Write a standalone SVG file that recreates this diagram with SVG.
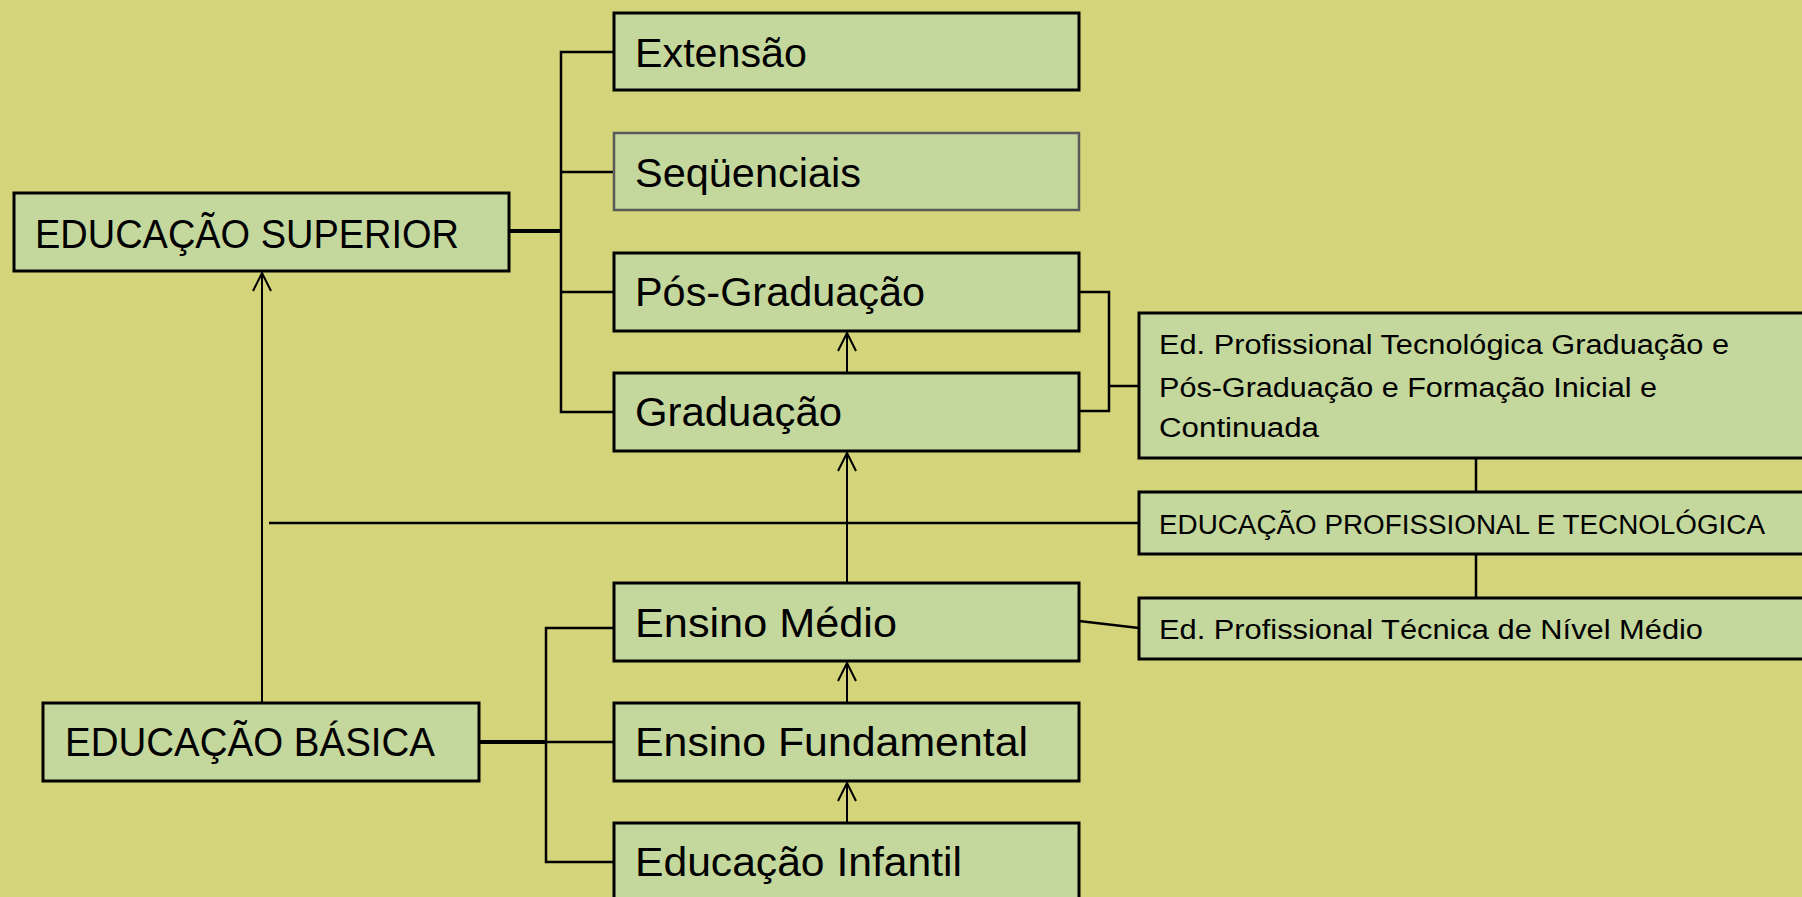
<svg xmlns="http://www.w3.org/2000/svg" width="1802" height="897" viewBox="0 0 1802 897">
<style>
.bg{fill:#D4D47A}
.box{fill:#C4D79C;stroke:#000;stroke-width:3}
.box2{fill:#C4D79C;stroke:#595959;stroke-width:2.5}
.t{font-family:"Liberation Sans",Arial,sans-serif;font-size:41px;fill:#000}
.s{font-family:"Liberation Sans",Arial,sans-serif;font-size:27px;fill:#000}
.c{fill:none;stroke:#000;stroke-width:2.5}
.ck{fill:none;stroke:#000;stroke-width:4}
.a{fill:none;stroke:#000;stroke-width:2;marker-end:url(#arr)}
</style>
<defs>
<marker id="arr" markerUnits="userSpaceOnUse" markerWidth="24" markerHeight="24" viewBox="0 0 24 24" refX="20" refY="12" orient="auto">
<path d="M2,3 L20,12 L2,21" fill="none" stroke="#000" stroke-width="2"/>
</marker>
</defs>
<rect class="bg" x="0" y="0" width="1802" height="897"/>
<g id="connectors">
<path class="c" d="M614,52 H561 V412 H614 M561,172 H614 M561,292 H614"/>
<path class="ck" d="M509,231 H561"/>
<path class="c" d="M614,628 H546 V862 H614 M546,742 H614"/>
<path class="ck" d="M479,742 H546"/>
<path class="c" d="M1079,292 H1109 V411 H1079 M1109,386 H1139"/>
<path class="c" d="M1079,621 L1139,628"/>
<path class="c" d="M269,523 H1139"/>
<path class="c" d="M1476,458 V492 M1476,554 V598"/>
<line class="a" x1="262" y1="703" x2="262" y2="273"/>
<line class="a" x1="847" y1="373" x2="847" y2="333"/>
<line class="a" x1="847" y1="583" x2="847" y2="453"/>
<line class="a" x1="847" y1="703" x2="847" y2="663"/>
<line class="a" x1="847" y1="823" x2="847" y2="783"/>
</g>
<g id="extensao"><rect class="box" x="614" y="13" width="465" height="77"/><text class="t" x="635" y="67" textLength="172" lengthAdjust="spacingAndGlyphs">Extensão</text></g>
<g id="sequenciais"><rect class="box2" x="614" y="133" width="465" height="77"/><text class="t" x="635" y="187" textLength="226" lengthAdjust="spacingAndGlyphs">Seqüenciais</text></g>
<g id="posgraduacao"><rect class="box" x="614" y="253" width="465" height="78"/><text class="t" x="635" y="306" textLength="290" lengthAdjust="spacingAndGlyphs">Pós-Graduação</text></g>
<g id="graduacao"><rect class="box" x="614" y="373" width="465" height="78"/><text class="t" x="635" y="426" textLength="207" lengthAdjust="spacingAndGlyphs">Graduação</text></g>
<g id="superior"><rect class="box" x="14" y="193" width="495" height="78"/><text class="t" x="35" y="248" textLength="424" lengthAdjust="spacingAndGlyphs">EDUCAÇÃO SUPERIOR</text></g>
<g id="medio"><rect class="box" x="614" y="583" width="465" height="78"/><text class="t" x="635" y="637" textLength="262" lengthAdjust="spacingAndGlyphs">Ensino Médio</text></g>
<g id="fundamental"><rect class="box" x="614" y="703" width="465" height="78"/><text class="t" x="635" y="756" textLength="393" lengthAdjust="spacingAndGlyphs">Ensino Fundamental</text></g>
<g id="infantil"><rect class="box" x="614" y="823" width="465" height="90"/><text class="t" x="635" y="876" textLength="327" lengthAdjust="spacingAndGlyphs">Educação Infantil</text></g>
<g id="basica"><rect class="box" x="43" y="703" width="436" height="78"/><text class="t" x="65" y="756" textLength="370" lengthAdjust="spacingAndGlyphs">EDUCAÇÃO BÁSICA</text></g>
<g id="tecnologica-grad"><rect class="box" x="1139" y="313" width="680" height="145"/>
<text class="s" x="1159" y="354" textLength="570" lengthAdjust="spacingAndGlyphs">Ed. Profissional Tecnológica Graduação e</text>
<text class="s" x="1159" y="397" textLength="498" lengthAdjust="spacingAndGlyphs">Pós-Graduação e Formação Inicial e</text>
<text class="s" x="1159" y="437" textLength="160" lengthAdjust="spacingAndGlyphs">Continuada</text></g>
<g id="profissional"><rect class="box" x="1139" y="492" width="680" height="62"/><text class="s" x="1159" y="534" textLength="606" lengthAdjust="spacingAndGlyphs">EDUCAÇÃO PROFISSIONAL E TECNOLÓGICA</text></g>
<g id="tecnica"><rect class="box" x="1139" y="598" width="680" height="61"/><text class="s" x="1159" y="639" textLength="544" lengthAdjust="spacingAndGlyphs">Ed. Profissional Técnica de Nível Médio</text></g>
</svg>
